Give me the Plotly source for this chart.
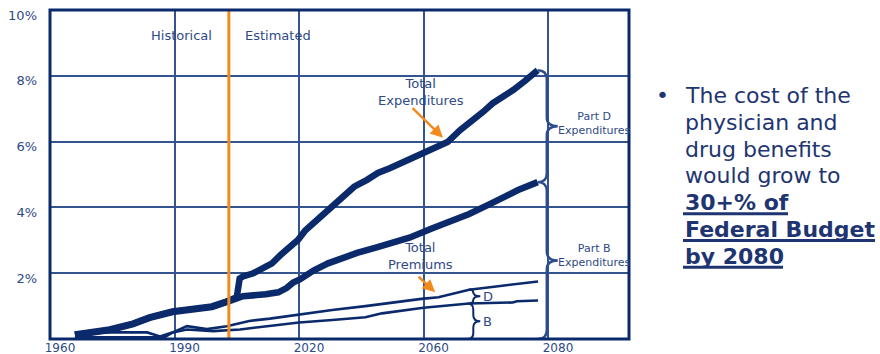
import numpy as np
import plotly.graph_objects as go

# ---------------------------------------------------------------------------
# Medicare Part B and Part D spending and premiums, % of GDP
# ---------------------------------------------------------------------------
total_exp_years = [1966, 1970, 1974.4, 1980, 1984, 1989.5, 1993, 1996, 1999, 2002.5,
                   2005, 2005.7, 2006.5, 2009, 2011.6, 2013.5, 2015.7, 2018, 2019.8,
                   2021.5, 2023.6, 2026, 2029.4, 2031, 2033.3, 2036.4, 2039, 2042,
                   2045.3, 2048, 2050, 2053, 2055.8, 2058.8, 2061.5, 2064.3, 2066.7,
                   2069, 2071.6, 2074.5, 2077.5]
total_exp = [0.14, 0.2, 0.29, 0.47, 0.66, 0.84, 0.88, 0.93, 0.99, 1.14,
             1.27, 1.84, 1.9, 2.0, 2.17, 2.3, 2.57, 2.82, 3.02,
             3.3, 3.53, 3.85, 4.23, 4.38, 4.63, 4.84, 5.05, 5.2,
             5.38, 5.52, 5.65, 5.82, 5.99, 6.35, 6.6, 6.9, 7.17,
             7.35, 7.57, 7.85, 8.17]

part_b_years = [1966, 1970, 1974.4, 1980, 1984, 1989.5, 1993, 1996, 1999, 2002.5,
                2005, 2006.5, 2012, 2015, 2017, 2018.6, 2020.2, 2023.5, 2027, 2030.5,
                2034, 2038.5, 2042, 2046.6, 2052, 2056, 2061, 2065.6, 2069, 2072.8,
                2077.5]
part_b_exp = [0.12, 0.18, 0.27, 0.45, 0.64, 0.82, 0.86, 0.91, 0.97, 1.12,
              1.26, 1.3, 1.36, 1.42, 1.55, 1.72, 1.81, 2.08, 2.3, 2.47,
              2.62, 2.78, 2.92, 3.08, 3.36, 3.55, 3.8, 4.08, 4.3, 4.53,
              4.77]

prem_years = [1966, 1975, 1983.4, 1986.5, 1990, 1993, 1997.8, 2002.6, 2008, 2013,
              2020, 2028, 2036, 2044, 2049.5, 2053.6, 2057.7, 2061, 2069, 2077.6]
total_prem = [0.2, 0.2, 0.2, 0.08, 0.22, 0.39, 0.3, 0.39, 0.55, 0.62,
              0.75, 0.88, 1.0, 1.14, 1.22, 1.27, 1.41, 1.5, 1.62, 1.75]

b_prem_years = [1966, 1975, 1987.5, 1989.6, 1993, 1999.3, 2005.8, 2012.3, 2020, 2028,
                2036, 2040, 2046, 2050, 2061, 2071.5, 2072.5, 2077.6]
b_prem = [0.05, 0.05, 0.05, 0.2, 0.29, 0.24, 0.29, 0.39, 0.5, 0.58,
          0.66, 0.78, 0.88, 0.95, 1.08, 1.11, 1.15, 1.17]

x_tick_vals = [1960, 1990, 2020, 2050, 2080]
x_tick_text = ["1960", "1990", "2020", "2060", "2080"]
y_tick_vals = [2, 4, 6, 8, 10]
y_tick_text = ["2%", "4%", "6%", "8%", "10%"]

ESTIMATE_START = 2003.1     # historical / estimated split
BRACE_YEAR = 2079.7         # big brace on the right
SMALL_BRACE_YEAR = 2062     # D / B premium brace

bullet_lines = ["The cost of the", "physician and", "drug benefits", "would grow to"]
bold_lines = ["30+% of", "Federal Budget", "by 2080"]

# ---------------------------------------------------------------------------
# Layout geometry
# ---------------------------------------------------------------------------
W, H = 880, 354
M_L, M_R, M_T, M_B = 50, 251, 10, 15
PLOT_W = W - M_L - M_R
PLOT_H = H - M_T - M_B
X_MIN = 1960
X_MAX = X_MIN + PLOT_W / 4.15
Y_MIN, Y_MAX = 0, 10.004
PX_X = PLOT_W / (X_MAX - X_MIN)
PX_Y = PLOT_H / (Y_MAX - Y_MIN)

NAVY = "#0B2A6B"
GRID = "#34548F"
BRACE = "#2C4C8C"
TEXT = "#2E4A86"
ORANGE = "#F28A1E"
FONT = "DejaVu Sans"


def paper_x(px):
    return (px - M_L) / PLOT_W


def paper_y(py):
    return (H - M_B - py) / PLOT_H


def brace_path(x, y_lo, y_hi, curl_px, tip_px):
    rx = curl_px / PX_X
    ry = curl_px / PX_Y
    tx = tip_px / PX_X
    ym = (y_lo + y_hi) / 2
    return (f"M {x - rx},{y_hi} Q {x},{y_hi} {x},{y_hi - ry} "
            f"L {x},{ym + ry} Q {x},{ym} {x + tx},{ym} "
            f"Q {x},{ym} {x},{ym - ry} "
            f"L {x},{y_lo + ry} Q {x},{y_lo} {x - rx},{y_lo}")


fig = go.Figure()

thin = dict(color=NAVY, width=2.6)
thick = dict(color=NAVY, width=6.5)
fig.add_trace(go.Scatter(x=b_prem_years, y=b_prem, mode="lines", line=thin, name="B premiums"))
fig.add_trace(go.Scatter(x=prem_years, y=total_prem, mode="lines", line=thin, name="Total premiums"))
fig.add_trace(go.Scatter(x=part_b_years, y=part_b_exp, mode="lines", line=thick, name="Part B expenditures"))
fig.add_trace(go.Scatter(x=total_exp_years, y=total_exp, mode="lines", line=thick, name="Total expenditures"))

# braces derived from the series values
top_total = total_exp[-1]
top_b = part_b_exp[-1]
prem_at = float(np.interp(SMALL_BRACE_YEAR, prem_years, total_prem))
bprem_at = float(np.interp(SMALL_BRACE_YEAR, b_prem_years, b_prem))

shapes = [
    # historical / estimated divider
    dict(type="line", xref="x", yref="paper", x0=ESTIMATE_START, x1=ESTIMATE_START,
         y0=0, y1=1, line=dict(color=ORANGE, width=3), layer="above"),
    dict(type="path", xref="x", yref="y", path=brace_path(BRACE_YEAR, top_b, top_total, 9, 11),
         line=dict(color=BRACE, width=2.4), layer="above"),
    dict(type="path", xref="x", yref="y", path=brace_path(BRACE_YEAR, Y_MIN, top_b, 9, 11),
         line=dict(color=BRACE, width=2.4), layer="above"),
    dict(type="path", xref="x", yref="y", path=brace_path(SMALL_BRACE_YEAR, bprem_at, prem_at, 4, 7),
         line=dict(color=NAVY, width=2), layer="above"),
    dict(type="path", xref="x", yref="y", path=brace_path(SMALL_BRACE_YEAR, Y_MIN, bprem_at, 6, 7),
         line=dict(color=NAVY, width=2), layer="above"),
    # plot frame
    dict(type="rect", xref="paper", yref="paper", x0=0, x1=1, y0=0, y1=1,
         line=dict(color=NAVY, width=3), layer="above"),
]

annotations = [
    dict(x=ESTIMATE_START, y=9.24, xref="x", yref="y", text="Historical", showarrow=False,
         xanchor="right", xshift=-15, font=dict(family=FONT, size=13, color=TEXT)),
    dict(x=ESTIMATE_START, y=9.24, xref="x", yref="y", text="Estimated", showarrow=False,
         xanchor="left", xshift=14, font=dict(family=FONT, size=13, color=TEXT)),
    dict(x=2049.4, y=7.52, xref="x", yref="y", text="Total<br>Expenditures", showarrow=False,
         font=dict(family=FONT, size=13, color=TEXT)),
    dict(x=2049.2, y=2.52, xref="x", yref="y", text="Total<br>Premiums", showarrow=False,
         font=dict(family=FONT, size=13, color=TEXT)),
    dict(x=2054.7, y=6.12, xref="x", yref="y", text="", showarrow=True, ax=-32, ay=-31,
         arrowhead=2, arrowsize=1, arrowwidth=2.5, arrowcolor=ORANGE, standoff=0),
    dict(x=2052.8, y=1.42, xref="x", yref="y", text="", showarrow=True, ax=-18, ay=-17,
         arrowhead=2, arrowsize=1, arrowwidth=2.5, arrowcolor=ORANGE, standoff=0),
    dict(x=2091.3, y=(top_b + top_total) / 2, xref="x", yref="y", text="Part D<br>Expenditures",
         showarrow=False, yshift=3, font=dict(family=FONT, size=11, color=TEXT)),
    dict(x=2091.3, y=top_b / 2, xref="x", yref="y", text="Part B<br>Expenditures",
         showarrow=False, yshift=5, font=dict(family=FONT, size=11, color=TEXT)),
    dict(x=SMALL_BRACE_YEAR, y=(prem_at + bprem_at) / 2, xref="x", yref="y", text="D",
         showarrow=False, xanchor="left", xshift=8, font=dict(family=FONT, size=13, color=TEXT)),
    dict(x=SMALL_BRACE_YEAR, y=bprem_at / 2, xref="x", yref="y", text="B",
         showarrow=False, xanchor="left", xshift=8, font=dict(family=FONT, size=13, color=TEXT)),
]

# bullet text block on the right
BODY = "#1E3572"
line_y0, line_step = 95.5, 26.8
annotations.append(dict(x=paper_x(662), y=paper_y(line_y0), xref="paper", yref="paper",
                        text="•", showarrow=False, xanchor="center", yanchor="middle",
                        font=dict(family=FONT, size=22, color=BODY)))
for i, line in enumerate(bullet_lines + bold_lines):
    bold = line in bold_lines
    annotations.append(dict(x=paper_x(683), y=paper_y(line_y0 + i * line_step),
                            xref="paper", yref="paper", text=f"<b>{line}</b>" if bold else line,
                            showarrow=False, xanchor="left", yanchor="middle",
                            font=dict(family=FONT, size=22, color=BODY)))
underline_ends = [788, 875, 783]
for j, end in enumerate(underline_ends):
    yy = paper_y(line_y0 + (len(bullet_lines) + j) * line_step + 11)
    shapes.append(dict(type="line", xref="paper", yref="paper", x0=paper_x(683), x1=paper_x(end),
                       y0=yy, y1=yy, line=dict(color=BODY, width=3)))

fig.update_layout(
    width=W, height=H,
    margin=dict(l=M_L, r=M_R, t=M_T, b=M_B, autoexpand=False),
    paper_bgcolor="white", plot_bgcolor="white",
    showlegend=False,
    shapes=shapes, annotations=annotations,
    xaxis=dict(range=[X_MIN, X_MAX], tickvals=x_tick_vals, ticktext=x_tick_text,
               showgrid=True, gridcolor=GRID, gridwidth=1.6, zeroline=False, showline=False,
               automargin=False, ticks="", ticklabelshift=10, ticklabelstandoff=0,
               tickfont=dict(family=FONT, size=12, color=TEXT)),
    yaxis=dict(range=[Y_MIN, Y_MAX], tickvals=y_tick_vals, ticktext=y_tick_text,
               showgrid=True, gridcolor=GRID, gridwidth=1.6, zeroline=False, showline=False,
               automargin=False, ticks="", ticklabelshift=5, ticklabelstandoff=12,
               ticklabeloverflow="allow",
               tickfont=dict(family=FONT, size=13, color=TEXT)),
)

fig.write_html("out.html")
